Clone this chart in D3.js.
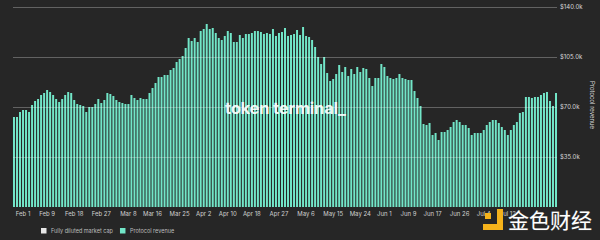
<!DOCTYPE html>
<html>
<head>
<meta charset="utf-8">
<script src="https://cdn.jsdelivr.net/npm/d3@7"></script>
<style>
  html, body { margin: 0; padding: 0; background: #262626; }
  svg { display: block; font-family: Inter, "Noto Sans", sans-serif; }
</style>
</head>
<body>
<div id="chart"></div>
<script>
// daily protocol revenue, in $k, starting Jan 29
var startDate = new Date(2022, 0, 29);
var revenue = [
  63.0, 63.0, 66.5,                                                   // Jan 29-31
  67.9, 67.9, 66.5, 71.4, 74.2, 75.6, 78.4, 79.8, 81.9, 80.5, 78.4, 75.6, 73.5, 75.6,
  78.4, 80.5, 79.8, 74.9, 72.1, 71.4, 70.7, 66.5, 70.0, 70.0, 72.1, 75.6, 72.8, 74.9,
  79.8, 79.1, 77.7, 74.9, 73.5, 72.8, 72.1,                           // Feb
  72.1, 78.4, 76.3, 74.9, 76.3, 75.6, 75.6, 79.8, 83.3, 86.8, 91.0, 91.0, 92.4, 92.4,
  95.9, 97.3, 101.5, 103.6, 105.7, 111.3, 118.3, 116.2, 118.3, 115.5, 123.2, 124.6,
  128.1, 124.6, 125.3, 121.8, 118.3,                                  // Mar
  116.9, 119.7, 123.2, 121.8, 115.5, 115.5, 120.4, 118.3, 121.1, 121.1, 121.8, 123.2,
  123.2, 122.5, 121.1, 121.8, 121.1, 124.6, 119.7, 121.8, 122.5, 125.3, 119.7, 120.4,
  121.1, 123.9, 120.4, 126.0, 119.7, 119.0,                           // Apr
  116.9, 112.0, 105.0, 100.1, 105.0, 93.8, 88.2, 89.6, 93.1, 99.4, 94.5, 98.0, 91.7,
  96.6, 93.1, 98.0, 94.5, 97.3, 96.6, 90.3, 84.7, 90.3, 90.3, 100.1, 98.0, 91.7, 90.3,
  89.6, 90.3, 93.1, 90.3,                                             // May
  89.6, 88.9, 88.9, 81.2, 76.3, 70.7, 58.1, 57.4, 58.8, 50.4, 51.8, 46.9, 52.5, 52.5,
  53.9, 56.0, 59.5, 60.9, 59.5, 57.4, 57.4, 55.3, 50.4, 51.8, 51.8, 51.8, 53.9, 57.4,
  59.5, 60.9,                                                         // Jun
  60.9, 58.8, 56.0, 53.9, 50.4, 53.9, 57.4, 59.5, 65.8, 66.5, 77.0, 77.0, 76.3, 77.0,
  77.0, 78.4, 79.8, 80.5, 74.2, 70.7, 79.8                            // Jul
];
var tickLabels = ["Feb 1", "Feb 9", "Feb 18", "Feb 27", "Mar 8", "Mar 16", "Mar 25", "Apr 2",
  "Apr 10", "Apr 18", "Apr 27", "May 6", "May 15", "May 24", "Jun 1", "Jun 9", "Jun 17",
  "Jun 26", "Jul 4", "Jul 12"];
var yTicks = [35, 70, 105, 140];
var legendItems = ["Fully diluted market cap", "Protocol revenue"];

var width = 600, height = 240;
var margin = {top: 7, right: 44, bottom: 33, left: 13};
var barColor = "#72e6c8";

var parse = d3.timeParse("%b %d %Y");
var fmtKey = d3.timeFormat("%Y-%m-%d");

var data = revenue.map(function (v, i) {
  return {date: d3.timeDay.offset(startDate, i), value: v};
});

var svg = d3.select("#chart").append("svg")
  .attr("width", width)
  .attr("height", height);

svg.append("rect")
  .attr("width", width)
  .attr("height", height)
  .attr("fill", "#262626");

var x = d3.scaleBand()
  .domain(data.map(function (d) { return fmtKey(d.date); }))
  .range([margin.left, width - margin.right + 1])
  .paddingInner(0.34)
  .paddingOuter(0);

var y = d3.scaleLinear()
  .domain([0, 140])
  .range([height - margin.bottom, margin.top]);

// bars
svg.append("g")
  .selectAll("rect")
  .data(data)
  .enter().append("rect")
  .attr("x", function (d) { return x(fmtKey(d.date)); })
  .attr("y", function (d) { return y(d.value); })
  .attr("width", x.bandwidth())
  .attr("height", function (d) { return y(0) - y(d.value); })
  .attr("fill", barColor);

// gridlines + right axis labels
var yAxis = d3.axisRight(y)
  .tickValues(yTicks)
  .tickSize(-(width - margin.right - margin.left + 1))
  .tickPadding(3)
  .tickFormat(function (d) { return "$" + d3.format(".1f")(d) + "k"; });

var gy = svg.append("g")
  .attr("transform", "translate(" + (width - margin.right + 1) + ",0)")
  .call(yAxis);
gy.select(".domain").remove();
gy.selectAll(".tick line")
  .attr("stroke", "#ffffff")
  .attr("stroke-opacity", 0.28)
  .attr("stroke-width", 1);
gy.selectAll(".tick text")
  .attr("fill", "#d8d8d8")
  .attr("font-size", 6)
  .attr("font-family", "Inter, sans-serif");

// x axis
var xAxis = d3.axisBottom(x)
  .tickValues(tickLabels.map(function (s) { return fmtKey(parse(s + " 2022")); }))
  .tickSize(0)
  .tickPadding(5)
  .tickFormat(function (k) { return d3.timeFormat("%b %-d")(d3.timeParse("%Y-%m-%d")(k)); });

var gx = svg.append("g")
  .attr("transform", "translate(0," + (height - margin.bottom) + ")")
  .call(xAxis);
gx.select(".domain").remove();
gx.selectAll(".tick text")
  .attr("fill", "#d0d0d0")
  .attr("font-size", 6)
  .attr("font-family", "Inter, sans-serif");

// axis title
svg.append("text")
  .attr("transform", "translate(590,105) rotate(90)")
  .attr("text-anchor", "middle")
  .attr("fill", "#d8d8d8")
  .attr("font-size", 6)
  .text("Protocol revenue");

// watermark
svg.append("text")
  .attr("x", 225)
  .attr("y", 114)
  .attr("fill", "#ffffff")
  .attr("fill-opacity", 0.93)
  .attr("font-size", 16.5)
  .attr("font-weight", 700)
  .attr("letter-spacing", -0.2)
  .text("token terminal_");

// legend
var legend = svg.append("g")
  .attr("transform", "translate(41,228)");
var legendColors = ["#e6e6e6", barColor];
var lx = 0;
legendItems.forEach(function (name, i) {
  var g = legend.append("g").attr("transform", "translate(" + lx + ",0)");
  g.append("rect")
    .attr("width", 5.5)
    .attr("height", 5.5)
    .attr("fill", legendColors[i]);
  var t = g.append("text")
    .attr("x", 10)
    .attr("y", 4.7)
    .attr("fill", "#bdbdbd")
    .attr("font-size", 5.5)
    .text(name);
  lx += 10 + t.node().getComputedTextLength() + 7;
});

// site stamp in the corner (covers the last date label, as in the source)
var stamp = svg.append("g");
stamp.append("path")
  .attr("d", "M485,213h6v6h-6z M497,209h6v21h-20v-6h14z")
  .attr("fill", "#f5b21b");
stamp.append("text")
  .attr("x", 508)
  .attr("y", 228)
  .attr("fill", "#ffffff")
  .attr("font-size", 21)
  .attr("font-family", "'Noto Sans CJK SC', sans-serif")
  .attr("stroke", "#555")
  .attr("stroke-width", 0.6)
  .attr("paint-order", "stroke")
  .text("金色财经");
</script>
</body>
</html>
